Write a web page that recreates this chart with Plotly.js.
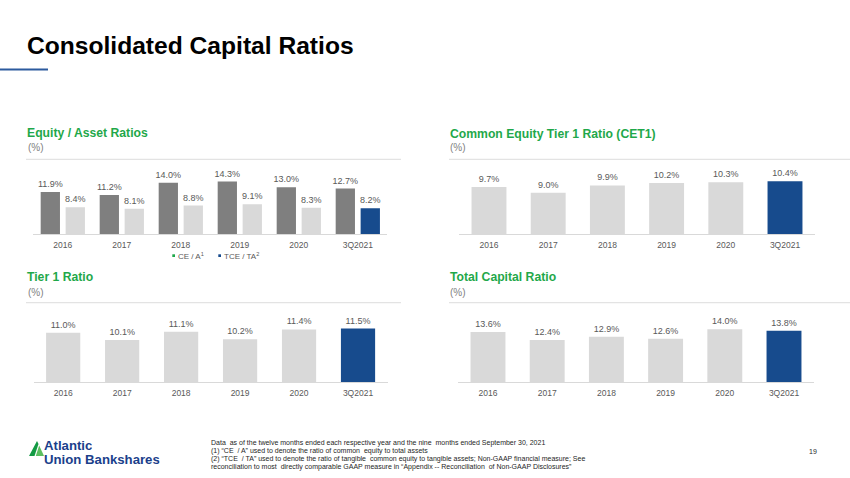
<!DOCTYPE html>
<html>
<head>
<meta charset="utf-8">
<script src="https://cdn.plot.ly/plotly-3.0.1.min.js"></script>
<style>html,body{margin:0;padding:0;background:#fff;}#chart{width:850px;height:478px;}</style>
</head>
<body>
<div id="chart"></div>
<script>
// ---- data ----
const categories = ['2016', '2017', '2018', '2019', '2020', '3Q2021'];
const ceA = [11.9, 11.2, 14.0, 14.3, 13.0, 12.7];
const tceTa = [8.4, 8.1, 8.8, 9.1, 8.3, 8.2];
const cet1 = [9.7, 9.0, 9.9, 10.2, 10.3, 10.4];
const tier1 = [11.0, 10.1, 11.1, 10.2, 11.4, 11.5];
const totalCapital = [13.6, 12.4, 12.9, 12.6, 14.0, 13.8];

// ---- styles ----
const W = 850, H = 478;
const X = px => px / W;
const Y = py => 1 - py / H;
const FONT = 'Liberation Sans, Arial, sans-serif';
const DARK = '#7f7f7f', LIGHT = '#d9d9d9', BLUE = '#174b8d', GREEN = '#1fa84a';
const LABEL = '#595959';
const lastBlue = (base) => categories.map((c, i) => i === categories.length - 1 ? BLUE : base);

function yRange(basePx, minVal, pxPerUnit, topPx) {
  return [minVal, minVal + (basePx - topPx) / pxPerUnit];
}

const textStyle = {size: 9, color: LABEL, family: FONT};
const common = {type: 'bar', texttemplate: '%{y:.1f}%', textposition: 'outside', textfont: textStyle,
  constraintext: 'none', hoverinfo: 'none'};

const traces = [
  Object.assign({}, common, {x: categories, y: ceA, xaxis: 'x', yaxis: 'y', marker: {color: DARK},
   width: 0.327, offset: -0.375, name: 'CE / A'}),
  Object.assign({}, common, {x: categories, y: tceTa, xaxis: 'x', yaxis: 'y', marker: {color: lastBlue(LIGHT)},
   width: 0.327, offset: 0.048, name: 'TCE / TA'}),
  Object.assign({}, common, {x: categories, y: cet1, xaxis: 'x2', yaxis: 'y2', marker: {color: lastBlue(LIGHT)}, width: 0.59}),
  Object.assign({}, common, {x: categories, y: tier1, xaxis: 'x3', yaxis: 'y3', marker: {color: lastBlue(LIGHT)}, width: 0.58}),
  Object.assign({}, common, {x: categories, y: totalCapital, xaxis: 'x4', yaxis: 'y4', marker: {color: lastBlue(LIGHT)}, width: 0.59})
];

function xa(d0, d1, anchor) {
  return {domain: [X(d0), X(d1)], anchor: anchor, type: 'category', showline: true,
    linecolor: '#d9d9d9', linewidth: 1, ticks: '', showgrid: false, zeroline: false, ticklabelstandoff: 3,
    tickfont: {size: 8.5, color: LABEL, family: FONT}, fixedrange: true};
}
function ya(basePx, topPx, range, anchor) {
  return {domain: [Y(basePx), Y(topPx)], anchor: anchor, range: range, visible: false,
    showgrid: false, zeroline: false, fixedrange: true};
}

const titleAnn = (text, x, y) => ({xref: 'paper', yref: 'paper', x: X(x), y: Y(y), xanchor: 'left', yanchor: 'middle',
  showarrow: false, text: '<b>' + text + '</b>', font: {size: 12.2, color: GREEN, family: FONT}});
const unitAnn = (x, y) => ({xref: 'paper', yref: 'paper', x: X(x), y: Y(y), xanchor: 'left', yanchor: 'middle',
  showarrow: false, text: '(%)', font: {size: 10, color: '#7f7f7f', family: FONT}});
const sepLine = (x0, x1, y) => ({type: 'line', xref: 'paper', yref: 'paper', x0: X(x0), x1: X(x1), y0: Y(y), y1: Y(y),
  line: {color: '#e3e3e3', width: 1.2}});
const footAnn = (text, y) => ({xref: 'paper', yref: 'paper', x: X(209), y: Y(y), xanchor: 'left', yanchor: 'middle',
  showarrow: false, text: text, font: {size: 7, color: '#262626', family: FONT}});
const logoAnn = (text, y) => ({xref: 'paper', yref: 'paper', x: X(42.5), y: Y(y), xanchor: 'left', yanchor: 'middle',
  showarrow: false, text: '<b>' + text + '</b>', height: 11, borderpad: 0, font: {size: 13.2, color: '#1b3f8b', family: FONT}});

const layout = {
  width: W, height: H, margin: {l: 0, r: 0, t: 0, b: 0}, paper_bgcolor: '#fff', plot_bgcolor: 'rgba(0,0,0,0)',
  showlegend: false, barmode: 'overlay', font: {family: FONT},
  xaxis: xa(33.3, 387.3, 'y'),
  yaxis: ya(234, 165, yRange(234, 2.3, 4.37, 165), 'x'),
  xaxis2: xa(459.4, 814.6, 'y2'),
  yaxis2: ya(234, 165, yRange(234, 3.93, 8.14, 165), 'x2'),
  xaxis3: xa(33.7, 387.5, 'y3'),
  yaxis3: ya(382, 310, yRange(382, 4.91, 8.1, 310), 'x3'),
  xaxis4: xa(458.4, 813.6, 'y4'),
  yaxis4: ya(382, 310, yRange(382, 6.1, 6.67, 310), 'x4'),
  shapes: [
    {type: 'line', xref: 'paper', yref: 'paper', x0: 0, x1: X(48), y0: Y(69.5), y1: Y(69.5), line: {color: '#2c5a9e', width: 2.2}},
    sepLine(26, 401, 159.3), sepLine(449, 850, 159.3), sepLine(26, 401, 302.7), sepLine(449, 850, 302.7),
    {type: 'rect', xref: 'paper', yref: 'paper', x0: X(172.3), x1: X(175), y0: Y(257), y1: Y(254.3), fillcolor: GREEN, line: {width: 0}},
    {type: 'rect', xref: 'paper', yref: 'paper', x0: X(218.3), x1: X(221), y0: Y(257), y1: Y(254.3), fillcolor: BLUE, line: {width: 0}},
    // logo mark
    {type: 'path', xref: 'paper', yref: 'paper', path: 'M ' + X(29) + ' ' + Y(456) + ' L ' + X(37) + ' ' + Y(441) + ' L ' + X(38.5) + ' ' + Y(444) + ' L ' + X(34.5) + ' ' + Y(456) + ' Z', fillcolor: '#139a43', line: {width: 0}},
    {type: 'path', xref: 'paper', yref: 'paper', path: 'M ' + X(35.8) + ' ' + Y(456) + ' L ' + X(39.2) + ' ' + Y(445.5) + ' L ' + X(44) + ' ' + Y(456) + ' Z', fillcolor: '#5cbf5f', line: {width: 0}}
  ],
  annotations: [
    {xref: 'paper', yref: 'paper', x: X(25), y: Y(45.5), xanchor: 'left', yanchor: 'middle', showarrow: false,
     text: '<b>Consolidated Capital Ratios</b>', font: {size: 24.6, color: '#000', family: FONT}},
    titleAnn('Equity / Asset Ratios', 25, 133), unitAnn(25.5, 147.7),
    titleAnn('Common Equity Tier 1 Ratio (CET1)', 448, 133.5), unitAnn(448.5, 147.7),
    titleAnn('Tier 1 Ratio', 25, 277), unitAnn(25.5, 292),
    titleAnn('Total Capital Ratio', 448, 277), unitAnn(448.5, 292),
    {xref: 'paper', yref: 'paper', x: X(176), y: Y(255.7), xanchor: 'left', yanchor: 'middle', showarrow: false,
     text: 'CE / A<sup>1</sup>', font: {size: 8, color: LABEL, family: FONT}},
    {xref: 'paper', yref: 'paper', x: X(222), y: Y(255.7), xanchor: 'left', yanchor: 'middle', showarrow: false,
     text: 'TCE / TA<sup>2</sup>', font: {size: 8, color: LABEL, family: FONT}},
    logoAnn('Atlantic', 445.6), logoAnn('Union Bankshares', 459.6),
    footAnn('Data  as of the twelve months ended each respective year and the nine  months ended September 30, 2021', 443),
    footAnn('(1) “CE  / A” used to denote the ratio of common  equity to total assets', 451),
    footAnn('(2) “TCE  / TA” used to denote the ratio of tangible  common equity to tangible assets; Non-GAAP financial measure; See', 459),
    footAnn('reconciliation to most  directly comparable GAAP measure in “Appendix -- Reconciliation  of Non-GAAP Disclosures”', 467),
    {xref: 'paper', yref: 'paper', x: X(813), y: Y(451), xanchor: 'center', yanchor: 'middle', showarrow: false,
     text: '19', font: {size: 7, color: '#262626', family: FONT}}
  ]
};

Plotly.newPlot('chart', traces, layout, {displayModeBar: false, staticPlot: true});
</script>
</body>
</html>
